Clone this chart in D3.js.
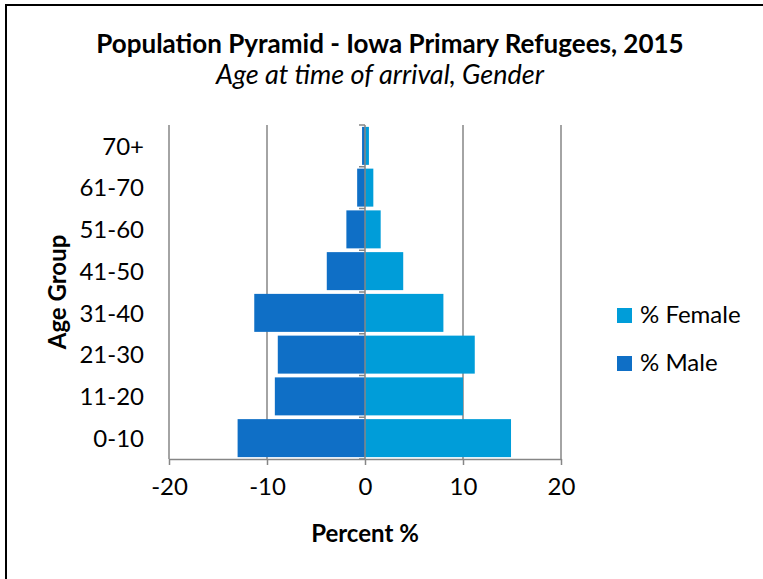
<!DOCTYPE html>
<html>
<head>
<meta charset="utf-8">
<script src="https://cdn.jsdelivr.net/npm/d3@7"></script>
<style>
  body { margin: 0; background: #fff; }
  svg text { font-family: Lato, "Open Sans", sans-serif; fill: #000; }
</style>
</head>
<body>
<svg id="chart" width="763" height="579"></svg>
<script>
var ageGroups = ["0-10", "11-20", "21-30", "31-40", "41-50", "51-60", "61-70", "70+"];
var femalePct = [14.9, 10.0, 11.2, 8.0, 3.9, 1.6, 0.85, 0.4];
var malePct = [13.0, 9.2, 8.9, 11.3, 3.9, 1.9, 0.8, 0.3];
var xTicks = [-20, -10, 0, 10, 20];
var seriesNames = ["% Female", "% Male"];
var seriesColors = ["#009dd9", "#0f6fc6"];

var svg = d3.select("#chart");
var margin = { top: 125, bottom: 120, left: 169, right: 202 };
var width = 763, height = 579;
var innerRight = width - margin.right;
var innerBottom = height - margin.bottom;

// frame (only top and left edges fall inside the picture)
svg.append("rect")
  .attr("x", 6).attr("y", 5)
  .attr("width", 800).attr("height", 600)
  .attr("fill", "none")
  .attr("stroke", "#000")
  .attr("stroke-width", 2);

var x = d3.scaleLinear().domain([-20, 20]).range([margin.left, innerRight]);
var y = d3.scaleBand().domain(ageGroups.slice().reverse())
  .range([margin.top, innerBottom]).paddingInner(0.09).paddingOuter(0.045);

// gridlines
svg.append("g")
  .selectAll("line")
  .data(xTicks.filter(d => d !== 0))
  .enter().append("line")
  .attr("x1", d => x(d)).attr("x2", d => x(d))
  .attr("y1", margin.top).attr("y2", innerBottom)
  .attr("stroke", "#868686").attr("stroke-width", 1.5);

var rows = ageGroups.map(function(g, i) {
  return { group: g, female: femalePct[i], male: malePct[i] };
});

// male bars (left)
svg.append("g").selectAll("rect")
  .data(rows).enter().append("rect")
  .attr("x", d => x(-d.male))
  .attr("y", d => y(d.group))
  .attr("width", d => x(0) - x(-d.male))
  .attr("height", y.bandwidth())
  .attr("fill", seriesColors[1]);

// female bars (right)
svg.append("g").selectAll("rect")
  .data(rows).enter().append("rect")
  .attr("x", x(0))
  .attr("y", d => y(d.group))
  .attr("width", d => x(d.female) - x(0))
  .attr("height", y.bandwidth())
  .attr("fill", seriesColors[0]);

// x axis
var xAxis = svg.append("g")
  .attr("transform", `translate(0,${innerBottom})`)
  .call(d3.axisBottom(x).tickValues(xTicks).tickSize(6).tickSizeOuter(0)
    .tickPadding(13).tickFormat(d => String(d)));
xAxis.select(".domain").attr("stroke", "#868686").attr("stroke-width", 1.5);
xAxis.selectAll(".tick line").attr("stroke", "#868686").attr("stroke-width", 1.5);
xAxis.selectAll("text").style("font-size", "24px").attr("fill", "#000");

// y axis at zero, ticks between categories
var yAxis = svg.append("g").attr("transform", `translate(${x(0)},0)`);
yAxis.append("line")
  .attr("x1", 0).attr("x2", 0)
  .attr("y1", margin.top).attr("y2", innerBottom)
  .attr("stroke", "#868686").attr("stroke-width", 1.5);
var step = (innerBottom - margin.top) / ageGroups.length;
yAxis.selectAll(".ytick")
  .data(d3.range(ageGroups.length + 1))
  .enter().append("line")
  .attr("x1", -6).attr("x2", 0)
  .attr("y1", d => margin.top + d * step)
  .attr("y2", d => margin.top + d * step)
  .attr("stroke", "#868686").attr("stroke-width", 1.5);

// category labels
svg.append("g").selectAll("text")
  .data(ageGroups).enter().append("text")
  .attr("x", 144)
  .attr("y", d => y(d) + y.bandwidth() / 2)
  .attr("dy", "0.36em")
  .attr("text-anchor", "end")
  .style("font-size", "24px")
  .text(d => d);

// titles
svg.append("text")
  .attr("x", 390).attr("y", 53)
  .attr("text-anchor", "middle")
  .style("font-size", "26px").style("font-weight", "bold")
  .text("Population Pyramid - Iowa Primary Refugees, 2015");

svg.append("text")
  .attr("x", 380).attr("y", 84)
  .attr("text-anchor", "middle")
  .style("font-size", "27px").style("font-style", "italic")
  .text("Age at time of arrival, Gender");

svg.append("text")
  .attr("x", x(0)).attr("y", 542)
  .attr("text-anchor", "middle")
  .style("font-size", "24px").style("font-weight", "bold")
  .text("Percent %");

svg.append("text")
  .attr("transform", "rotate(-90)")
  .attr("x", -292).attr("y", 66)
  .attr("text-anchor", "middle")
  .style("font-size", "24px").style("font-weight", "bold")
  .text("Age Group");

// legend
var legend = svg.append("g").selectAll("g")
  .data(seriesNames).enter().append("g")
  .attr("transform", (d, i) => `translate(617,${308 + i * 48})`);
legend.append("rect")
  .attr("width", 15).attr("height", 15)
  .attr("fill", (d, i) => seriesColors[i]);
legend.append("text")
  .attr("x", 23).attr("y", 15)
  .style("font-size", "24px")
  .text(d => d);
</script>
</body>
</html>
